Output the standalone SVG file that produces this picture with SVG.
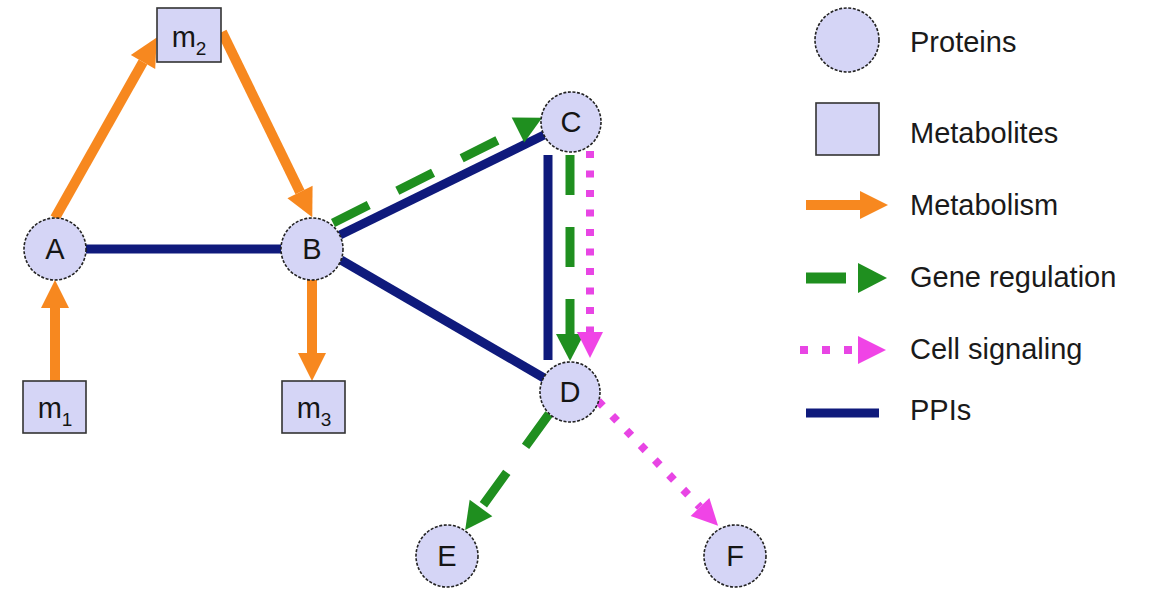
<svg xmlns="http://www.w3.org/2000/svg" width="1156" height="589" viewBox="0 0 1156 589">
<style>
.prot{fill:#d5d5f6;stroke:#222;stroke-width:1.6;stroke-dasharray:3 1.6}
.met{fill:#d5d5f6;stroke:#333;stroke-width:1.6}
.lbl{font-family:"Liberation Sans",Arial,sans-serif;font-size:29px;fill:#151515;text-anchor:middle}
.leg{font-family:"Liberation Sans",Arial,sans-serif;font-size:29px;fill:#1a1a1a}
.orange{stroke:#f7881f;stroke-width:10;fill:none}
.navy{stroke:#0f1a7c;stroke-width:9;fill:none}
.green{stroke:#1f8f1f;stroke-width:9;fill:none;stroke-dasharray:40 32}
.pink{stroke:#e845e4;stroke-width:8;fill:none;stroke-linecap:butt}
</style>
<defs>
<marker id="ao" markerUnits="userSpaceOnUse" markerWidth="30" markerHeight="30" refX="0" refY="14" orient="auto" overflow="visible"><path d="M0,0 L28,14 L0,28 Z" fill="#f7881f"/></marker>
<marker id="ag" markerUnits="userSpaceOnUse" markerWidth="30" markerHeight="30" refX="0" refY="14" orient="auto" overflow="visible"><path d="M0,0 L27,14 L0,28 Z" fill="#1f8f1f"/></marker>
<marker id="ap" markerUnits="userSpaceOnUse" markerWidth="30" markerHeight="30" refX="0" refY="13" orient="auto" overflow="visible"><path d="M0,0 L26,13 L0,26 Z" fill="#f044e6"/></marker>
</defs>
<g id="connectors">
<line class="orange" x1="55" y1="381" x2="55" y2="308" marker-end="url(#ao)"/>
<line class="orange" x1="55" y1="218" x2="143" y2="62" marker-end="url(#ao)"/>
<line class="orange" x1="222" y1="32" x2="300" y2="192" marker-end="url(#ao)"/>
<line class="orange" x1="312" y1="280" x2="312" y2="353" marker-end="url(#ao)"/>
<line class="navy" x1="86" y1="249" x2="281" y2="249"/>
<line class="navy" x1="340" y1="235" x2="544" y2="135"/>
<line class="navy" x1="341" y1="260" x2="544" y2="378"/>
<line class="navy" x1="548" y1="155" x2="548" y2="360"/>
<line class="green" x1="333" y1="223" x2="518" y2="130" marker-end="url(#ag)"/>
<line class="green" x1="570" y1="155" x2="570" y2="334" marker-end="url(#ag)"/>
<line class="green" x1="549" y1="414" x2="481" y2="508" marker-end="url(#ag)"/>
<line class="pink" x1="590" y1="151" x2="590" y2="332" stroke-dasharray="7 12.5" marker-end="url(#ap)"/>
<line class="pink" x1="598" y1="401" x2="700" y2="507" stroke-dasharray="7 13.5" stroke-width="7" marker-end="url(#ap)"/>
</g>
<g id="node-m2"><rect class="met" x="157" y="8" width="64" height="54"/><text class="lbl" x="189" y="47" font-size="30">m<tspan dy="8" font-size="19">2</tspan></text></g>
<g id="node-m1"><rect class="met" x="23" y="381" width="63" height="52"/><text class="lbl" x="55" y="418" font-size="30">m<tspan dy="8" font-size="19">1</tspan></text></g>
<g id="node-m3"><rect class="met" x="282" y="381" width="63" height="52"/><text class="lbl" x="314" y="418" font-size="30">m<tspan dy="8" font-size="19">3</tspan></text></g>
<g id="node-A"><circle class="prot" cx="55" cy="249" r="31"/><text class="lbl" x="55" y="259">A</text></g>
<g id="node-B"><circle class="prot" cx="312" cy="249" r="31"/><text class="lbl" x="312" y="259">B</text></g>
<g id="node-C"><circle class="prot" cx="571" cy="122" r="30"/><text class="lbl" x="571" y="132">C</text></g>
<g id="node-D"><circle class="prot" cx="570" cy="392" r="30"/><text class="lbl" x="570" y="402">D</text></g>
<g id="node-E"><circle class="prot" cx="447" cy="556" r="31"/><text class="lbl" x="447" y="566">E</text></g>
<g id="node-F"><circle class="prot" cx="735" cy="556" r="31"/><text class="lbl" x="735" y="566">F</text></g>
<g id="legend">
<circle class="prot" cx="847" cy="40" r="32"/>
<text class="leg" x="910" y="52">Proteins</text>
<rect class="met" x="816" y="103" width="63" height="52"/>
<text class="leg" x="910" y="143">Metabolites</text>
<line class="orange" x1="806" y1="205" x2="860" y2="205" stroke-width="11" marker-end="url(#ao)"/>
<text class="leg" x="910" y="215">Metabolism</text>
<line stroke="#1f8f1f" stroke-width="11" x1="806" y1="278" x2="846" y2="278"/>
<path d="M858,263 L887,278 L858,293 Z" fill="#1f8f1f"/>
<text class="leg" x="910" y="287">Gene regulation</text>
<line class="pink" x1="800" y1="350" x2="852" y2="350" stroke-dasharray="8 14"/>
<path d="M858,336 L886,350 L858,364 Z" fill="#f044e6"/>
<text class="leg" x="910" y="359">Cell signaling</text>
<line class="navy" x1="806" y1="413" x2="879" y2="413" stroke-width="10"/>
<text class="leg" x="910" y="420">PPIs</text>
</g>
</svg>
